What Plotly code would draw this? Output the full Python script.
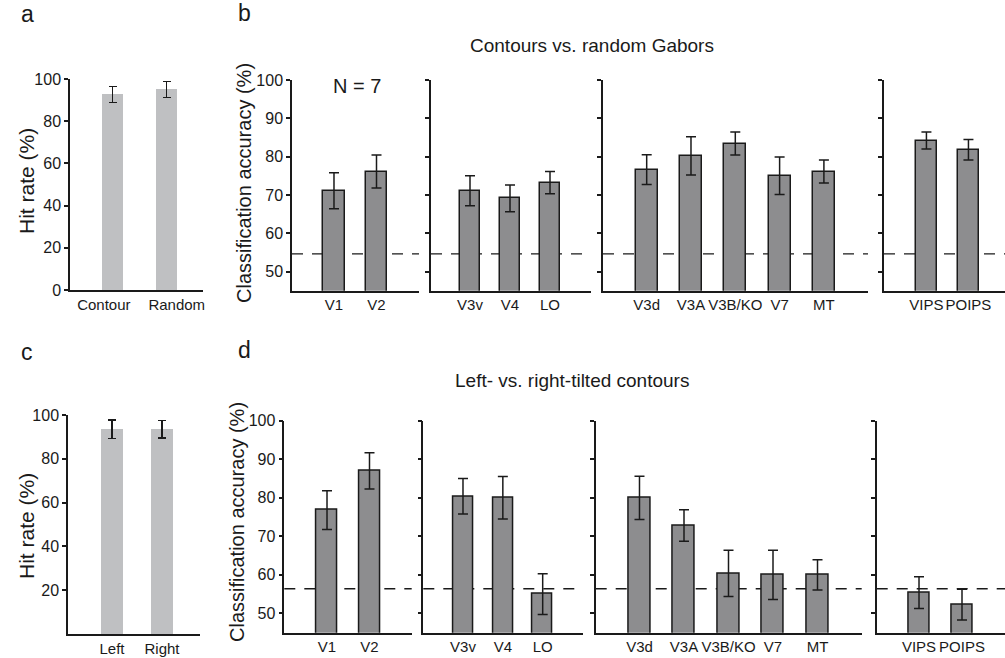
import plotly.graph_objects as go

# ---------------- data ----------------
a_labels = ["Contour", "Random"]
a_hit = [92.7, 95.1]
a_err = [3.8, 3.8]

c_labels = ["Left", "Right"]
c_hit = [93.5, 93.5]
c_err = [4.2, 4.0]

rois_early = ["V1", "V2"]
rois_ventral = ["V3v", "V4", "LO"]
rois_dorsal = ["V3d", "V3A", "V3B/KO", "V7", "MT"]
rois_parietal = ["VIPS", "POIPS"]

b_acc_early = [71.1, 76.1]
b_err_early = [4.7, 4.3]
b_acc_ventral = [71.1, 69.1, 73.2]
b_err_ventral = [3.9, 3.5, 2.9]
b_acc_dorsal = [76.6, 80.2, 83.4, 75.0, 76.1]
b_err_dorsal = [3.9, 5.0, 3.0, 4.9, 3.0]
b_acc_parietal = [84.2, 81.8]
b_err_parietal = [2.2, 2.7]

d_acc_early = [76.8, 87.0]
d_err_early = [5.0, 4.7]
d_acc_ventral = [80.4, 80.0, 55.0]
d_err_ventral = [4.6, 5.5, 5.3]
d_acc_dorsal = [80.0, 72.8, 60.4, 60.0, 60.0]
d_err_dorsal = [5.6, 4.1, 6.0, 6.4, 3.9]
d_acc_parietal = [55.4, 52.3]
d_err_parietal = [4.1, 4.0]

b_chance = 54.6
d_chance = 56.4

hit_ticks = [0, 20, 40, 60, 80, 100]
hit_ticks_c = [20, 40, 60, 80, 100]
acc_ticks = [50, 60, 70, 80, 90, 100]

# ---------------- style ----------------
W, H = 1005, 658
FONT = "Liberation Sans, Arial, Helvetica, sans-serif"
INK = "#1a1a1a"
LIGHT = "#bfc0c2"
DARK = "#8d8d8f"

def fx(px):
    return px / W

def fy(py):
    return 1 - py / H

fig = go.Figure()
layout = dict(
    width=W, height=H, margin=dict(l=0, r=0, t=0, b=0, pad=0),
    paper_bgcolor="white", plot_bgcolor="rgba(0,0,0,0)",
    showlegend=False, font=dict(family=FONT, size=16, color=INK),
    bargap=0, shapes=[], annotations=[],
)

# label offsets (in category units) for the hit-rate panel labels, as laid out in the original
a_label_shift = [-0.16, 0.19]

panels = [
    (a_labels, a_hit, a_err, (70, 203), (79, 290), (-0.787, 1.676), (0, 100), hit_ticks, True, "light", 0.39, None),
    (c_labels, c_hit, c_err, (68, 200), (415, 634), (-0.88, 1.76), (0, 100), hit_ticks_c, True, "light", 0.44, None),
    (rois_early, b_acc_early, b_err_early, (292, 419), (80, 290.7), (-0.988, 2.0), (45, 100), acc_ticks, True, "dark", 0.5, b_chance),
    (rois_ventral, b_acc_ventral, b_err_ventral, (431, 591), (80, 290.7), (-0.975, 3.025), (45, 100), acc_ticks, False, "dark", 0.5, b_chance),
    (rois_dorsal, b_acc_dorsal, b_err_dorsal, (603, 868), (80, 290.7), (-0.986, 4.995), (45, 100), acc_ticks, False, "dark", 0.5, b_chance),
    (rois_parietal, b_acc_parietal, b_err_parietal, (884, 1005), (80, 290.7), (-1.01, 1.87), (45, 100), acc_ticks, False, "dark", 0.5, b_chance),
    (rois_early, d_acc_early, d_err_early, (284.3, 411.7), (420.7, 632.7), (-1.005, 1.993), (45, 100), acc_ticks, True, "dark", 0.5, d_chance),
    (rois_ventral, d_acc_ventral, d_err_ventral, (423.3, 582.7), (420.7, 632.7), (-0.996, 3.004), (45, 100), acc_ticks, False, "dark", 0.5, d_chance),
    (rois_dorsal, d_acc_dorsal, d_err_dorsal, (595.7, 861.7), (420.7, 632.7), (-0.984, 4.993), (45, 100), acc_ticks, False, "dark", 0.5, d_chance),
    (rois_parietal, d_acc_parietal, d_err_parietal, (876.7, 1005), (420.7, 632.7), (-0.984, 2.0), (45, 100), acc_ticks, False, "dark", 0.5, d_chance),
]

for i, (labels, vals, errs, xd, yd, xr, yr, ticks, showlab, style, bw, chance) in enumerate(panels, start=1):
    sfx = "" if i == 1 else str(i)
    if style == "light":
        marker = dict(color=LIGHT, line=dict(width=0))
        capw = 4
    else:
        marker = dict(color=DARK, line=dict(color=INK, width=1.5))
        capw = 5
    pos = list(range(len(labels)))
    fig.add_trace(go.Bar(
        x=pos, y=vals, width=bw, marker=marker,
        error_y=dict(type="data", array=errs, thickness=1.5, width=capw, color=INK),
        xaxis="x" + sfx, yaxis="y" + sfx,
    ))
    if i == 1:
        tickpos = [p + s for p, s in zip(pos, a_label_shift)]
    else:
        tickpos = pos
    layout["xaxis" + sfx] = dict(
        domain=[fx(xd[0]), fx(xd[1])], range=list(xr), anchor="y" + sfx,
        tickmode="array", tickvals=tickpos, ticktext=labels,
        showline=True, linecolor=INK, linewidth=1.5,
        ticks="", showgrid=False, zeroline=False, fixedrange=True, automargin=False,
        tickangle=0, tickfont=dict(size=15, color=INK),
    )
    layout["yaxis" + sfx] = dict(
        domain=[fy(yd[1]), fy(yd[0])], range=list(yr), anchor="x" + sfx,
        showline=True, linecolor=INK, linewidth=1.5, automargin=False,
        ticks="outside", ticklen=4, tickwidth=1.5, tickcolor=INK,
        tickvals=ticks, showticklabels=showlab, showgrid=False, zeroline=False,
        tickfont=dict(size=16, color=INK), fixedrange=True,
    )
    if chance is not None:
        layout["shapes"].append(dict(
            type="line", xref="x" + sfx + " domain", yref="y" + sfx,
            x0=0, x1=1, y0=chance, y1=chance, layer="below",
            line=dict(color=INK, width=1.3, dash="11px,9px"),
        ))

def ann(text, x, y, size, angle=0):
    layout["annotations"].append(dict(
        text=text, xref="paper", yref="paper", x=fx(x), y=fy(y),
        xanchor="center", yanchor="middle", showarrow=False, textangle=angle,
        font=dict(family=FONT, size=size, color=INK),
    ))

ann("a", 27, 14, 23)
ann("b", 244, 13, 23)
ann("c", 27, 352, 23)
ann("d", 244, 350, 23)
ann("Contours vs. random Gabors", 592, 45, 19)
ann("Left- vs. right-tilted contours", 572, 381, 19)
ann("N = 7", 357, 86, 20)
ann("Hit rate (%)", 26, 181, 21, -90)
ann("Hit rate (%)", 26, 526, 21, -90)
ann("Classification accuracy (%)", 244, 183, 20, -90)
ann("Classification accuracy (%)", 237, 522, 20, -90)

fig.update_layout(**layout)
fig.write_html(
    "out.html",
    config={"responsive": False, "displayModeBar": False},
    post_script="document.body.style.margin='0px';document.body.style.overflow='hidden';",
)
